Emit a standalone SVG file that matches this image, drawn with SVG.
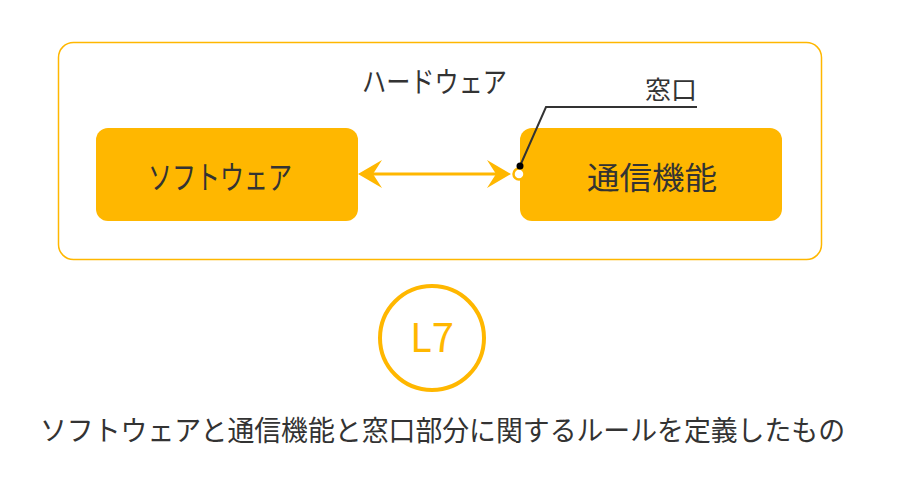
<svg xmlns="http://www.w3.org/2000/svg" width="900" height="480" viewBox="0 0 900 480">
<style>
text{font-family:"Noto Sans CJK JP","Noto Sans",sans-serif;fill:#333}
.box{fill:#FFB700}
.c{text-anchor:middle}
</style>
<defs>
<marker id="ah" viewBox="0 0 24 28" refX="20" refY="14" markerWidth="24" markerHeight="28" orient="auto-start-reverse" markerUnits="userSpaceOnUse">
<path d="M0,0 L24,14 L0,28 L9,14 Z" fill="#FFB700"/>
</marker>
</defs>
<rect width="900" height="480" fill="#fff"/>
<g id="hardware">
<rect x="58.5" y="42.5" width="763" height="217" rx="15" fill="none" stroke="#FFB700" stroke-width="1.5"/>
<text x="362" y="93" font-size="29" textLength="145" lengthAdjust="spacingAndGlyphs">ハードウェア</text>
</g>
<g id="software">
<rect class="box" x="96" y="128" width="262" height="93" rx="12"/>
<text x="148" y="189" font-size="32" textLength="144" lengthAdjust="spacingAndGlyphs">ソフトウェア</text>
</g>
<g id="comm">
<rect class="box" x="520" y="128" width="262" height="93" rx="12"/>
<text x="587" y="189" font-size="31" textLength="130" lengthAdjust="spacingAndGlyphs">通信機能</text>
</g>
<g id="connectors">
<line x1="362" y1="174" x2="507" y2="174" stroke="#FFB700" stroke-width="3" marker-start="url(#ah)" marker-end="url(#ah)"/>
<circle cx="519" cy="174" r="5.5" fill="#fff" stroke="#FFB700" stroke-width="2.5"/>
<polyline points="520,166 546,107 697,107" fill="none" stroke="#333" stroke-width="2"/>
<circle cx="520" cy="166" r="3.5" fill="#000"/>
</g>
<g id="window">
<text x="645" y="99" font-size="25" textLength="52" lengthAdjust="spacingAndGlyphs">窓口</text>
</g>
<g id="l7">
<circle cx="432" cy="338" r="52" fill="none" stroke="#FFB700" stroke-width="4"/>
<text class="c" x="432" y="352" font-size="40" style="fill:#FFB700">L7</text>
</g>
<text x="40" y="441" font-size="28" textLength="805" lengthAdjust="spacingAndGlyphs">ソフトウェアと通信機能と窓口部分に関するルールを定義したもの</text>
</svg>
